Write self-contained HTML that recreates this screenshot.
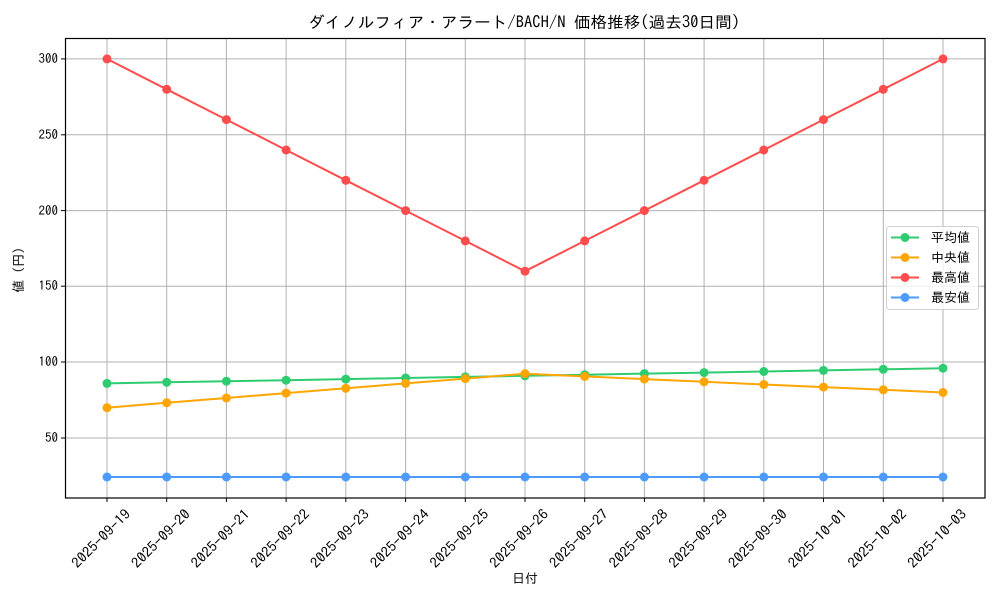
<!DOCTYPE html>
<html><head><meta charset="utf-8"><style>body{margin:0;background:#fff}svg{display:block;font-family:"IPAGothic","Liberation Sans","Noto Sans CJK JP",sans-serif}</style></head><body>
<svg width="1000" height="600" viewBox="0 0 1000 600">
<g stroke="#b0b0b0" stroke-width="1">
<line x1="107" y1="39" x2="107" y2="498"/><line x1="166.7" y1="39" x2="166.7" y2="498"/><line x1="226.4" y1="39" x2="226.4" y2="498"/><line x1="286.1" y1="39" x2="286.1" y2="498"/><line x1="345.8" y1="39" x2="345.8" y2="498"/><line x1="405.6" y1="39" x2="405.6" y2="498"/><line x1="465.3" y1="39" x2="465.3" y2="498"/><line x1="525" y1="39" x2="525" y2="498"/><line x1="584.7" y1="39" x2="584.7" y2="498"/><line x1="644.4" y1="39" x2="644.4" y2="498"/><line x1="704.1" y1="39" x2="704.1" y2="498"/><line x1="763.8" y1="39" x2="763.8" y2="498"/><line x1="823.5" y1="39" x2="823.5" y2="498"/><line x1="883.3" y1="39" x2="883.3" y2="498"/><line x1="943" y1="39" x2="943" y2="498"/>
<line x1="65" y1="438" x2="985" y2="438"/><line x1="65" y1="362" x2="985" y2="362"/><line x1="65" y1="286.2" x2="985" y2="286.2"/><line x1="65" y1="210.6" x2="985" y2="210.6"/><line x1="65" y1="134.8" x2="985" y2="134.8"/><line x1="65" y1="58.9" x2="985" y2="58.9"/>
</g>
<rect x="65.5" y="38.5" width="919.5" height="459.5" fill="none" stroke="#000" stroke-width="1.2"/>
<g stroke="#000"><line x1="61" y1="438" x2="65" y2="438"/><line x1="61" y1="362" x2="65" y2="362"/><line x1="61" y1="286.2" x2="65" y2="286.2"/><line x1="61" y1="210.6" x2="65" y2="210.6"/><line x1="61" y1="134.8" x2="65" y2="134.8"/><line x1="61" y1="58.9" x2="65" y2="58.9"/></g>
<g font-size="13" text-anchor="end"><text x="58" y="442">50</text><text x="58" y="366">100</text><text x="58" y="290">150</text><text x="58" y="215">200</text><text x="58" y="139">250</text><text x="58" y="63">300</text></g>
<g stroke="#000"><line x1="107" y1="498" x2="107" y2="502"/><line x1="166.7" y1="498" x2="166.7" y2="502"/><line x1="226.4" y1="498" x2="226.4" y2="502"/><line x1="286.1" y1="498" x2="286.1" y2="502"/><line x1="345.8" y1="498" x2="345.8" y2="502"/><line x1="405.6" y1="498" x2="405.6" y2="502"/><line x1="465.3" y1="498" x2="465.3" y2="502"/><line x1="525" y1="498" x2="525" y2="502"/><line x1="584.7" y1="498" x2="584.7" y2="502"/><line x1="644.4" y1="498" x2="644.4" y2="502"/><line x1="704.1" y1="498" x2="704.1" y2="502"/><line x1="763.8" y1="498" x2="763.8" y2="502"/><line x1="823.5" y1="498" x2="823.5" y2="502"/><line x1="883.3" y1="498" x2="883.3" y2="502"/><line x1="943" y1="498" x2="943" y2="502"/></g>
<g font-size="14" text-anchor="middle">
<text transform="translate(104.5,542) rotate(-45)" textLength="76" lengthAdjust="spacingAndGlyphs">2025-09-19</text><text transform="translate(164.2,542) rotate(-45)" textLength="76" lengthAdjust="spacingAndGlyphs">2025-09-20</text><text transform="translate(223.9,542) rotate(-45)" textLength="76" lengthAdjust="spacingAndGlyphs">2025-09-21</text><text transform="translate(283.6,542) rotate(-45)" textLength="76" lengthAdjust="spacingAndGlyphs">2025-09-22</text><text transform="translate(343.3,542) rotate(-45)" textLength="76" lengthAdjust="spacingAndGlyphs">2025-09-23</text><text transform="translate(403.1,542) rotate(-45)" textLength="76" lengthAdjust="spacingAndGlyphs">2025-09-24</text><text transform="translate(462.8,542) rotate(-45)" textLength="76" lengthAdjust="spacingAndGlyphs">2025-09-25</text><text transform="translate(522.5,542) rotate(-45)" textLength="76" lengthAdjust="spacingAndGlyphs">2025-09-26</text><text transform="translate(582.2,542) rotate(-45)" textLength="76" lengthAdjust="spacingAndGlyphs">2025-09-27</text><text transform="translate(641.9,542) rotate(-45)" textLength="76" lengthAdjust="spacingAndGlyphs">2025-09-28</text><text transform="translate(701.6,542) rotate(-45)" textLength="76" lengthAdjust="spacingAndGlyphs">2025-09-29</text><text transform="translate(761.3,542) rotate(-45)" textLength="76" lengthAdjust="spacingAndGlyphs">2025-09-30</text><text transform="translate(821,542) rotate(-45)" textLength="76" lengthAdjust="spacingAndGlyphs">2025-10-01</text><text transform="translate(880.8,542) rotate(-45)" textLength="76" lengthAdjust="spacingAndGlyphs">2025-10-02</text><text transform="translate(940.5,542) rotate(-45)" textLength="76" lengthAdjust="spacingAndGlyphs">2025-10-03</text>
</g>
<text x="525" y="583" font-size="13" text-anchor="middle">日付</text>
<text transform="translate(23,270) rotate(-90)" font-size="13" text-anchor="middle">値 (円)</text>
<text x="524" y="28" font-size="16" text-anchor="middle" textLength="432" lengthAdjust="spacingAndGlyphs">ダイノルフィア・アラート/BACH/N 価格推移(過去30日間)</text>
<g fill="none" stroke-width="2">
<polyline stroke="#2ecc71" points="107,383.4 166.7,382.3 226.4,381.2 286.1,380.2 345.8,379.1 405.6,378 465.3,376.9 525,375.8 584.7,374.7 644.4,373.6 704.1,372.6 763.8,371.5 823.5,370.4 883.3,369.3 943,368.2"/>
<polyline stroke="#ffa500" points="107,407.7 166.7,402.8 226.4,398 286.1,393.1 345.8,388.3 405.6,383.4 465.3,378.6 525,373.7 584.7,376.4 644.4,379.1 704.1,381.8 763.8,384.5 823.5,387.1 883.3,389.8 943,392.5"/>
<polyline stroke="#ff4d4d" points="107,58.9 166.7,89.3 226.4,119.6 286.1,150 345.8,180.3 405.6,210.6 465.3,240.9 525,271.2 584.7,240.9 644.4,210.6 704.1,180.3 763.8,150 823.5,119.6 883.3,89.3 943,58.9"/>
<polyline stroke="#4d9bff" points="107,477 943,477"/>
</g>
<g fill="#2ecc71"><circle cx="107" cy="383.4" r="4.5"/><circle cx="166.7" cy="382.3" r="4.5"/><circle cx="226.4" cy="381.2" r="4.5"/><circle cx="286.1" cy="380.2" r="4.5"/><circle cx="345.8" cy="379.1" r="4.5"/><circle cx="405.6" cy="378" r="4.5"/><circle cx="465.3" cy="376.9" r="4.5"/><circle cx="525" cy="375.8" r="4.5"/><circle cx="584.7" cy="374.7" r="4.5"/><circle cx="644.4" cy="373.6" r="4.5"/><circle cx="704.1" cy="372.6" r="4.5"/><circle cx="763.8" cy="371.5" r="4.5"/><circle cx="823.5" cy="370.4" r="4.5"/><circle cx="883.3" cy="369.3" r="4.5"/><circle cx="943" cy="368.2" r="4.5"/></g>
<g fill="#ffa500"><circle cx="107" cy="407.7" r="4.5"/><circle cx="166.7" cy="402.8" r="4.5"/><circle cx="226.4" cy="398" r="4.5"/><circle cx="286.1" cy="393.1" r="4.5"/><circle cx="345.8" cy="388.3" r="4.5"/><circle cx="405.6" cy="383.4" r="4.5"/><circle cx="465.3" cy="378.6" r="4.5"/><circle cx="525" cy="373.7" r="4.5"/><circle cx="584.7" cy="376.4" r="4.5"/><circle cx="644.4" cy="379.1" r="4.5"/><circle cx="704.1" cy="381.8" r="4.5"/><circle cx="763.8" cy="384.5" r="4.5"/><circle cx="823.5" cy="387.1" r="4.5"/><circle cx="883.3" cy="389.8" r="4.5"/><circle cx="943" cy="392.5" r="4.5"/></g>
<g fill="#ff4d4d"><circle cx="107" cy="58.9" r="4.5"/><circle cx="166.7" cy="89.3" r="4.5"/><circle cx="226.4" cy="119.6" r="4.5"/><circle cx="286.1" cy="150" r="4.5"/><circle cx="345.8" cy="180.3" r="4.5"/><circle cx="405.6" cy="210.6" r="4.5"/><circle cx="465.3" cy="240.9" r="4.5"/><circle cx="525" cy="271.2" r="4.5"/><circle cx="584.7" cy="240.9" r="4.5"/><circle cx="644.4" cy="210.6" r="4.5"/><circle cx="704.1" cy="180.3" r="4.5"/><circle cx="763.8" cy="150" r="4.5"/><circle cx="823.5" cy="119.6" r="4.5"/><circle cx="883.3" cy="89.3" r="4.5"/><circle cx="943" cy="58.9" r="4.5"/></g>
<g fill="#4d9bff"><circle cx="107" cy="477" r="4.5"/><circle cx="166.7" cy="477" r="4.5"/><circle cx="226.4" cy="477" r="4.5"/><circle cx="286.1" cy="477" r="4.5"/><circle cx="345.8" cy="477" r="4.5"/><circle cx="405.6" cy="477" r="4.5"/><circle cx="465.3" cy="477" r="4.5"/><circle cx="525" cy="477" r="4.5"/><circle cx="584.7" cy="477" r="4.5"/><circle cx="644.4" cy="477" r="4.5"/><circle cx="704.1" cy="477" r="4.5"/><circle cx="763.8" cy="477" r="4.5"/><circle cx="823.5" cy="477" r="4.5"/><circle cx="883.3" cy="477" r="4.5"/><circle cx="943" cy="477" r="4.5"/></g>
<rect x="886.5" y="226.5" width="92" height="83" rx="3" fill="#fff" fill-opacity="0.8" stroke="#d0d0d0"/>
<g stroke-width="2"><line x1="891" y1="237.5" x2="919" y2="237.5" stroke="#2ecc71"/><line x1="891" y1="257.5" x2="919" y2="257.5" stroke="#ffa500"/><line x1="891" y1="277.5" x2="919" y2="277.5" stroke="#ff4d4d"/><line x1="891" y1="297.5" x2="919" y2="297.5" stroke="#4d9bff"/></g>
<circle cx="905" cy="237.5" r="4.5" fill="#2ecc71"/><circle cx="905" cy="257.5" r="4.5" fill="#ffa500"/><circle cx="905" cy="277.5" r="4.5" fill="#ff4d4d"/><circle cx="905" cy="297.5" r="4.5" fill="#4d9bff"/>
<g font-size="13"><text x="931" y="242">平均値</text><text x="931" y="262">中央値</text><text x="931" y="282">最高値</text><text x="931" y="302">最安値</text></g>
</svg>
</body></html>
